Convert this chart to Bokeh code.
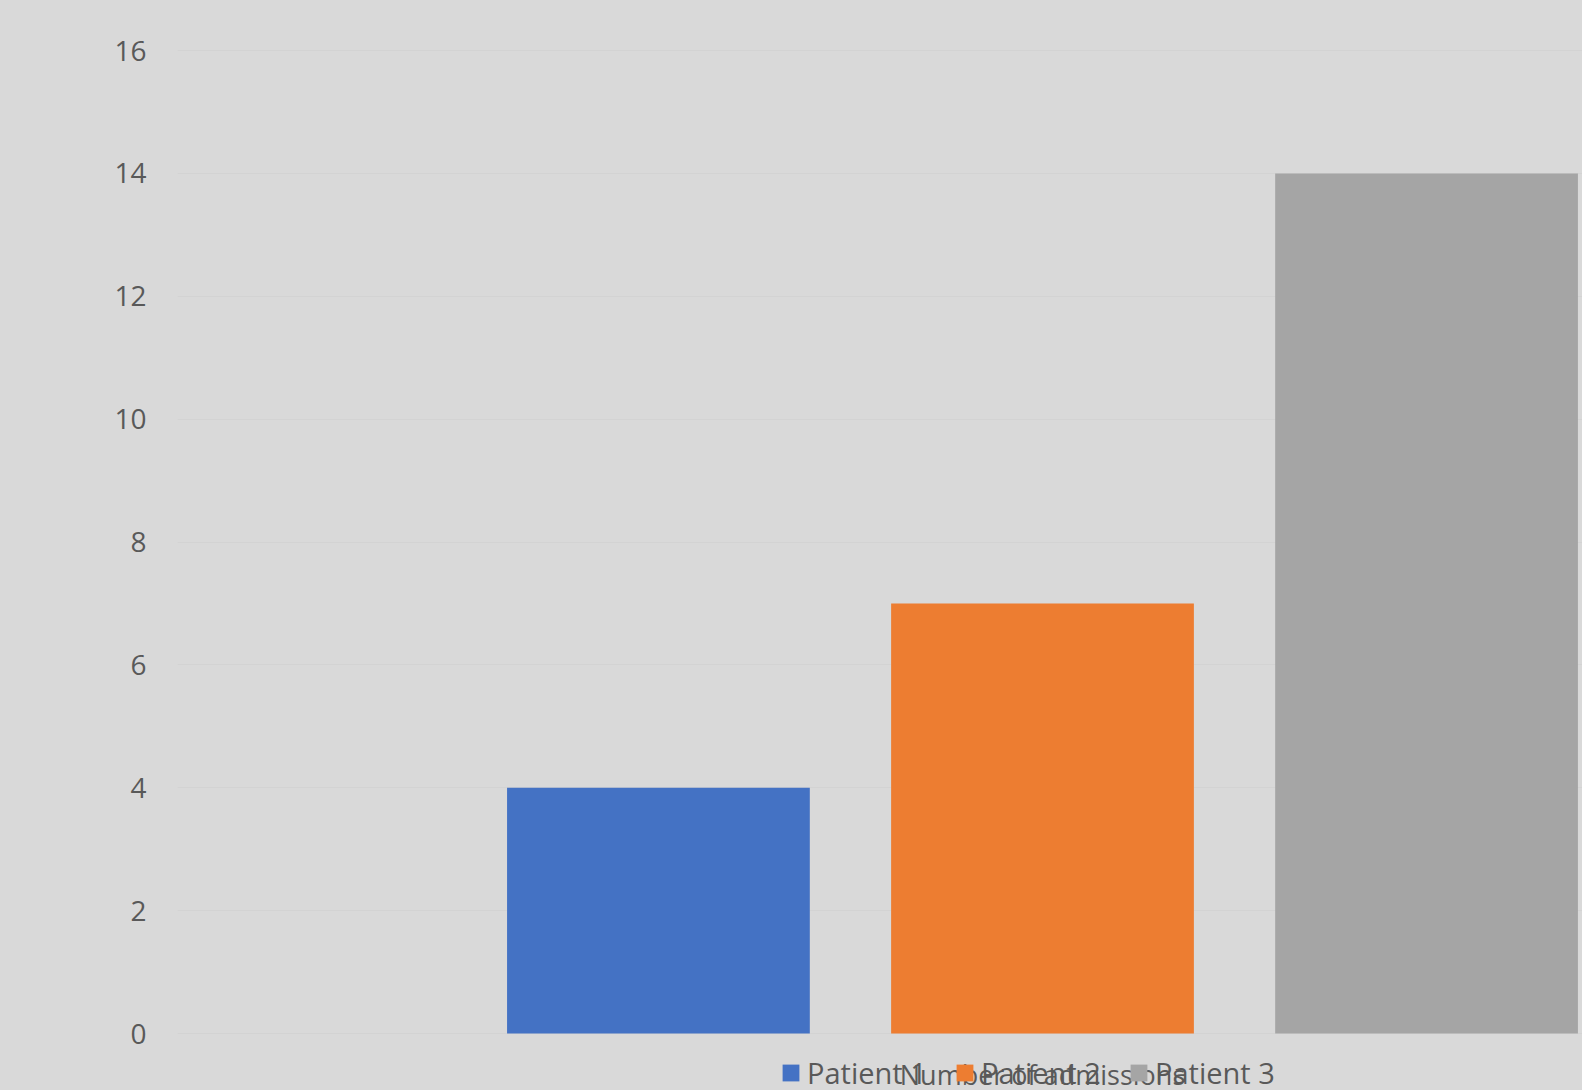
from bokeh.plotting import figure
from bokeh.models import Range1d, FixedTicker, Legend, LegendItem
from bokeh.core.properties import value
from bokeh.embed import file_html
from bokeh.resources import INLINE

categories = ["Number of admissions"]
series_names = ["Patient 1", "Patient 2", "Patient 3"]
series_values = [4, 7, 14]
series_colors = ["#4472C4", "#ED7D31", "#A5A5A5"]
y_ticks = [0, 2, 4, 6, 8, 10, 12, 14, 16]

FONT = "Open Sans"
TXT = "#595959"
BG = "#D9D9D9"

cat_pos = {c: 0.5 + i for i, c in enumerate(categories)}
bar_w = 0.175
offsets = [-0.222, 0.0, 0.222]

# frame runs to the bottom of the canvas so that the legend (below the 0 line) is visible
px_per_unit = 983 / 16
y_start = -(1090 - 1033) / px_per_unit
y_end = 16 + 2 / px_per_unit

p = figure(
    frame_width=1405, frame_height=1042,
    x_range=Range1d(0, 1405 / 1730), y_range=Range1d(y_start, y_end),
    output_backend="svg", toolbar_location=None, x_axis_location=None,
    min_border_left=177, min_border_right=0, min_border_top=48, min_border_bottom=0,
)
p.background_fill_color = BG
p.border_fill_color = BG
p.outline_line_color = None
p.styles = {"background-color": BG}

items = []
for name, val, col, off in zip(series_names, series_values, series_colors, offsets):
    r = p.vbar(x=[cat_pos[categories[0]] + off], top=[val], bottom=0, width=bar_w,
               fill_color=col, line_color=None)
    items.append(LegendItem(label=name, renderers=[r]))

# y axis
p.yaxis.ticker = FixedTicker(ticks=y_ticks)
p.yaxis.axis_line_color = None
p.yaxis.major_tick_line_color = None
p.yaxis.minor_tick_line_color = None
p.yaxis.major_label_text_font = FONT
p.yaxis.major_label_text_font_size = "28px"
p.yaxis.major_label_text_color = TXT
p.yaxis.major_label_standoff = 25

p.xgrid.grid_line_color = None
p.ygrid.grid_line_color = "#D3D3D3"
p.ygrid.ticker = FixedTicker(ticks=y_ticks)

# category label (horizontal axis)
p.text(x=[cat_pos[c] for c in categories], y=[-0.66] * len(categories), text=categories,
       text_font=value(FONT), text_font_size="27px", text_color=TXT,
       text_align="center", text_baseline="middle")

legend = Legend(
    items=items, orientation="horizontal", location=(603, -2),
    glyph_width=21, glyph_height=21, label_standoff=6, spacing=0,
    label_width=147, padding=0, margin=0,
    label_text_font=FONT, label_text_font_size="29px", label_text_color=TXT,
    background_fill_alpha=0, border_line_color=None,
)
p.add_layout(legend, "center")

open("out.html", "w").write(file_html(p, INLINE))
